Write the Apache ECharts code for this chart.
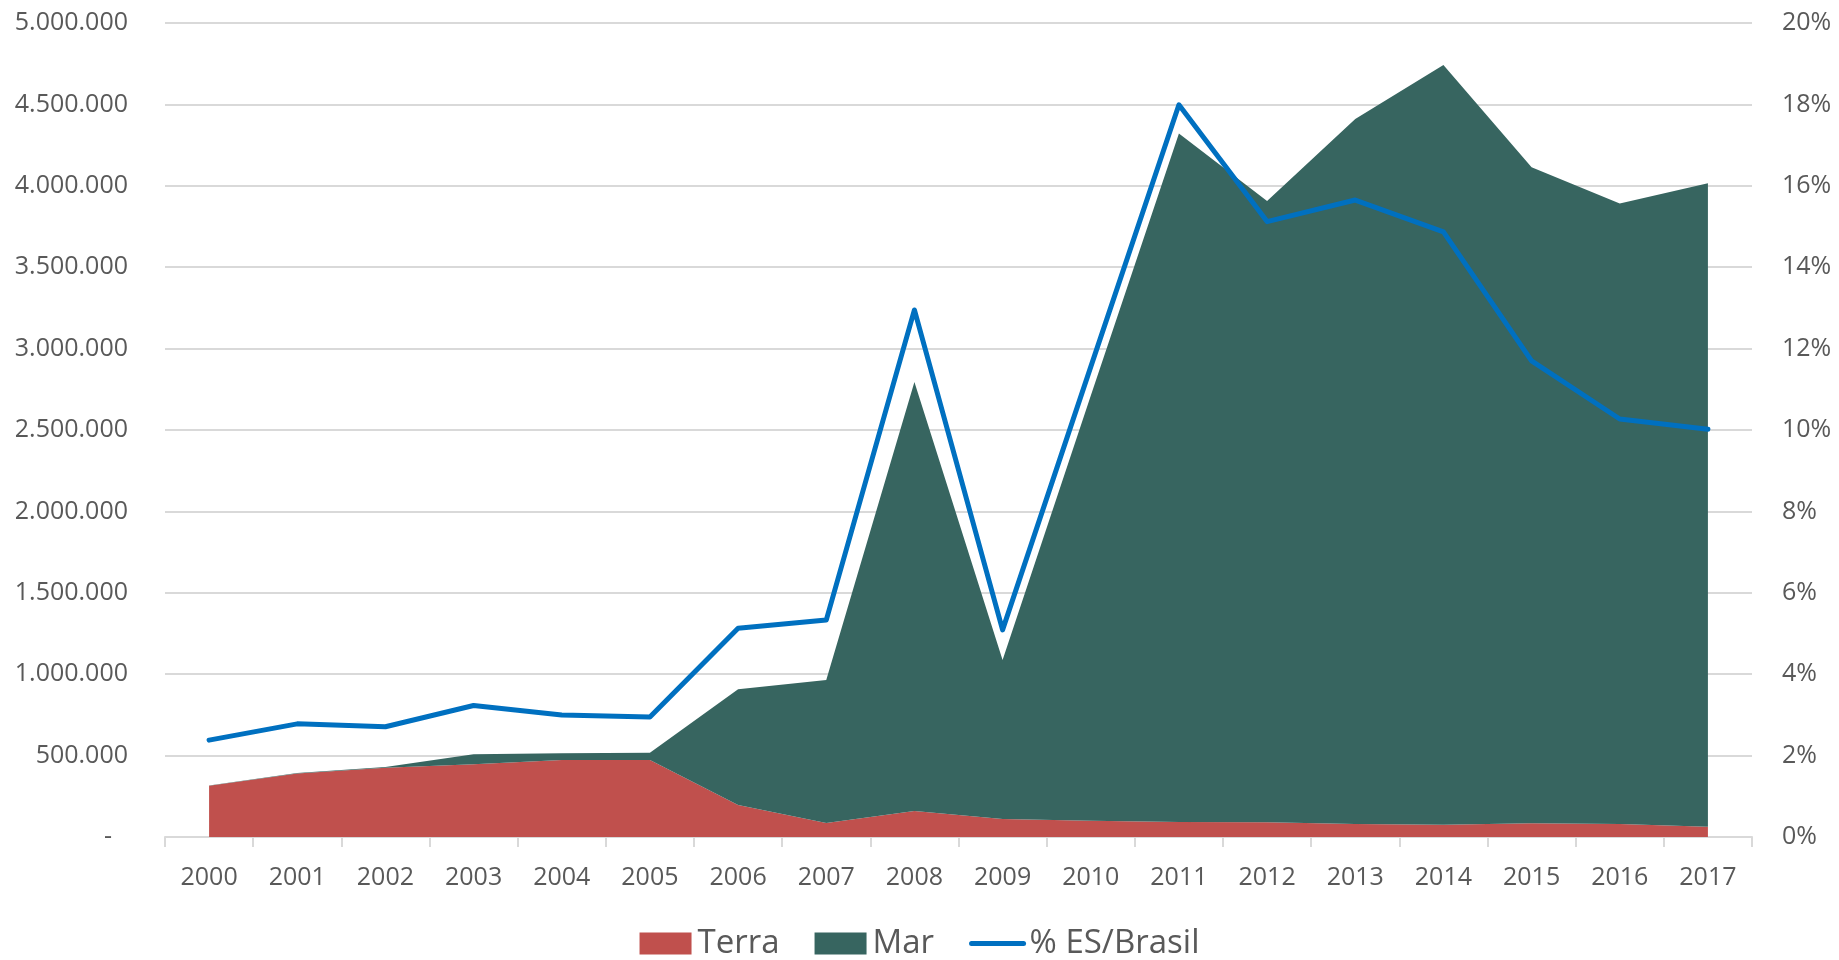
<!DOCTYPE html>
<html>
<head>
<meta charset="utf-8">
<script src="https://cdn.jsdelivr.net/npm/echarts@6/dist/echarts.min.js"></script>
<style>
html,body{margin:0;padding:0;background:#fff;}
#chart{width:1839px;height:960px;}
</style>
</head>
<body>
<div id="chart"></div>
<script>
const years = ['2000','2001','2002','2003','2004','2005','2006','2007','2008','2009','2010','2011','2012','2013','2014','2015','2016','2017'];
const terra = [315000,390000,425000,447000,473000,473000,197000,86000,160000,110000,100000,92000,90000,80000,75000,84000,80000,63000];
const mar = [2000,3000,5000,61000,41000,45000,711000,879000,2635000,977000,2610000,4230000,3817000,4330000,4667000,4030000,3812000,3952000];
const pctEsBrasil = [0.0238,0.0278,0.0271,0.0323,0.0300,0.0295,0.0513,0.0533,0.1295,0.0509,0.1155,0.1799,0.1512,0.1565,0.1487,0.1170,0.1027,0.1002];
const leftTicks = {min:0, max:5000000, interval:500000};
const rightTicks = {min:0, max:0.2, interval:0.02};

const FONT = '"Open Sans", "Noto Sans", sans-serif';
const TXT = '#595959';
const GRID = '#d9d9d9';

function fmtDots(v){
  return String(Math.round(v)).replace(/\B(?=(\d{3})+(?!\d))/g,'.');
}

const chart = echarts.init(document.getElementById('chart'), null, {renderer:'canvas'});
chart.setOption({
  animation:false,
  backgroundColor:'#fff',
  textStyle:{fontFamily:FONT},
  grid:{left:165,right:87,top:23,bottom:123,containLabel:false},
  legend:{
    left:'center', top:922,
    itemWidth:52, itemHeight:22, itemGap:35,
    textStyle:{fontFamily:FONT,fontSize:33,color:TXT,padding:[0,0,0,1]},
    data:[
      {name:'Terra',icon:'rect'},
      {name:'Mar',icon:'rect'},
      {name:'% ES/Brasil',itemStyle:{opacity:0},lineStyle:{width:5,color:'#0070C0',opacity:1}}
    ]
  },
  xAxis:{
    type:'category',
    data:years,
    boundaryGap:true,
    axisLine:{show:true,lineStyle:{color:GRID,width:2}},
    axisTick:{show:true,alignWithLabel:false,length:10,lineStyle:{color:GRID,width:2}},
    axisLabel:{color:TXT,fontFamily:FONT,fontSize:25,margin:28,interval:0},
    splitLine:{show:false}
  },
  yAxis:[
    {
      type:'value',
      min:leftTicks.min,max:leftTicks.max,interval:leftTicks.interval,
      axisLine:{show:false},axisTick:{show:false},
      axisLabel:{
        color:TXT,fontFamily:FONT,fontSize:25,margin:37,
        formatter:function(v){return v===0?'{d|-}':fmtDots(v);},
        rich:{d:{color:TXT,fontFamily:FONT,fontSize:25,padding:[0,16,0,0]}}
      },
      splitLine:{show:true,lineStyle:{color:GRID,width:2}}
    },
    {
      type:'value',
      min:rightTicks.min,max:rightTicks.max,interval:rightTicks.interval,
      position:'right',
      axisLine:{show:false},axisTick:{show:false},
      axisLabel:{
        color:TXT,fontFamily:FONT,fontSize:25,margin:30,
        formatter:function(v){return Math.round(v*100)+'%';}
      },
      splitLine:{show:false}
    }
  ],
  series:[
    {
      name:'Terra',type:'line',stack:'prod',data:terra,
      symbol:'none',lineStyle:{width:0},
      itemStyle:{color:'#C0504D'},
      areaStyle:{color:'#C0504D',opacity:1},
      z:2
    },
    {
      name:'Mar',type:'line',stack:'prod',data:mar,
      symbol:'none',lineStyle:{width:0},
      itemStyle:{color:'#376560'},
      areaStyle:{color:'#376560',opacity:1},
      z:2
    },
    {
      name:'% ES/Brasil',type:'line',yAxisIndex:1,data:pctEsBrasil,
      symbol:'none',
      itemStyle:{color:'#0070C0'},
      lineStyle:{color:'#0070C0',width:5,cap:'round',join:'round'},
      z:5
    }
  ]
});
</script>
</body>
</html>
